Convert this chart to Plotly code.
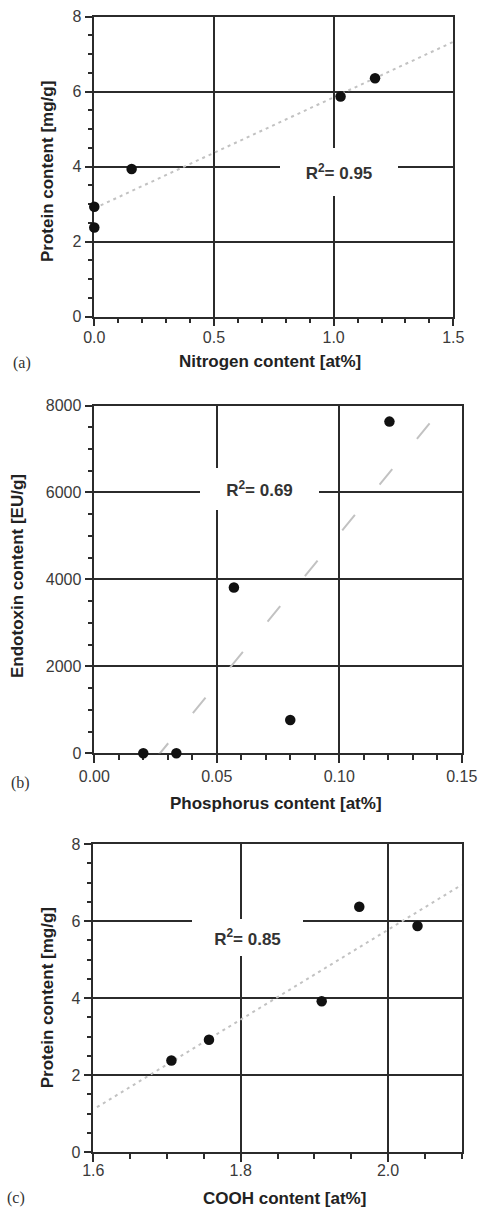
import plotly.graph_objects as go

# ---- data -------------------------------------------------------------
# (a) protein vs. nitrogen
nitrogen_at = [0.0, 0.0, 0.156, 1.029, 1.173]
protein_a = [2.93, 2.38, 3.94, 5.87, 6.36]
fit_a_x = [0.0, 1.5]
fit_a_y = [2.89, 7.33]
r2_a = "0.95"

# (b) endotoxin vs. phosphorus
phosphorus_at = [0.020, 0.0335, 0.057, 0.080, 0.1205]
endotoxin = [0, 0, 3815, 767, 7630]
fit_b_x = [0.025, 0.137]
fit_b_y = [-125, 7594]
r2_b = "0.69"

# (c) protein vs. COOH
cooh_at = [1.706, 1.757, 1.910, 1.961, 2.040]
protein_c = [2.38, 2.92, 3.92, 6.37, 5.87]
fit_c_x = [1.605, 2.1]
fit_c_y = [1.17, 6.94]
r2_c = "0.85"

W, H = 479, 1209
LINE = "#2b2b2b"
TXT = "#222222"
TICKTXT = "#3a3a3a"
SANS = "Liberation Sans, Arial, Helvetica, sans-serif"
SERIF = "Liberation Serif, Times New Roman, serif"


def fx(px):
    return px / W


def fy(py):
    return 1 - py / H


# pixel frames of the three plotting areas: (left, right, top, bottom)
frames = {
    "a": (94.3, 453.3, 16.7, 316.7),
    "b": (94.3, 461.7, 405.5, 753.3),
    "c": (93.3, 461.7, 844.0, 1152.3),
}

fig = go.Figure()


def add_panel(idx, xs, ys, fx_, fy_, dash):
    xa = "x" if idx == 1 else f"x{idx}"
    ya = "y" if idx == 1 else f"y{idx}"
    fig.add_trace(go.Scatter(
        x=fx_, y=fy_, xaxis=xa, yaxis=ya, mode="lines",
        line=dict(color="#c2c2c2", width=2, dash=dash),
        hoverinfo="skip", showlegend=False))
    fig.add_trace(go.Scatter(
        x=xs, y=ys, xaxis=xa, yaxis=ya, mode="markers",
        marker=dict(color="#111111", size=10.5, line=dict(width=0)),
        cliponaxis=False, showlegend=False))


add_panel(1, nitrogen_at, protein_a, fit_a_x, fit_a_y, "3px,4px")
add_panel(2, phosphorus_at, endotoxin, fit_b_x, fit_b_y, "20px,39px")
add_panel(3, cooh_at, protein_c, fit_c_x, fit_c_y, "3px,4px")


def axis_common():
    return dict(
        showline=True, linecolor=LINE, linewidth=1.5, mirror=True,
        showgrid=True, gridcolor=LINE, gridwidth=1.5,
        zeroline=False, ticks="outside", ticklen=8, tickwidth=1.5,
        tickcolor=LINE, layer="below traces", automargin=False,
        tickfont=dict(family=SANS, size=16, color=TICKTXT),
        fixedrange=True,
    )


def minor(d):
    return dict(dtick=d, ticks="outside", ticklen=5, tickwidth=1.5,
                tickcolor=LINE, showgrid=False)


axes = {
    "a": dict(xr=[0, 1.5], xd=0.5, xm=0.1, xf=".1f", xs=-3,
              yr=[0, 8], yd=2, ym=0.5, yf="d"),
    "b": dict(xr=[0, 0.15], xd=0.05, xm=0.01, xf=".2f", xs=0,
              yr=[0, 8000], yd=2000, ym=500, yf="d"),
    "c": dict(xr=[1.6, 2.1], xd=0.2, xm=0.05, xf=".1f", xs=-5,
              yr=[0, 8], yd=2, ym=0.5, yf="d"),
}

layout_axes = {}
for i, key in enumerate(["a", "b", "c"], start=1):
    l, r, t, b = frames[key]
    a = axes[key]
    xname = "xaxis" if i == 1 else f"xaxis{i}"
    yname = "yaxis" if i == 1 else f"yaxis{i}"
    yref = "y" if i == 1 else f"y{i}"
    xref = "x" if i == 1 else f"x{i}"
    x0 = a["xr"][0]
    layout_axes[xname] = dict(
        axis_common(), domain=[fx(l), fx(r)], range=a["xr"], anchor=yref,
        tick0=x0, dtick=a["xd"], tickformat=a["xf"],
        ticklabelstandoff=a["xs"], minor=minor(a["xm"]))
    layout_axes[yname] = dict(
        axis_common(), domain=[fy(b), fy(t)], range=a["yr"], anchor=xref,
        tick0=0, dtick=a["yd"], tickformat=a["yf"],
        minor=minor(a["ym"]))

fig.update_layout(**layout_axes)

ann = []


def text(px, py, s, size=17, bold=True, angle=0, family=SANS, color=TXT,
         box=None):
    d = dict(
        x=fx(px), y=fy(py), xref="paper", yref="paper",
        text=f"<b>{s}</b>" if bold else s, showarrow=False,
        textangle=angle, xanchor="center", yanchor="middle",
        font=dict(family=family, size=size, color=color))
    if box is not None:
        # white label box that interrupts the grid behind the text
        d.update(width=box[0], height=box[1], bgcolor="white",
                 borderpad=0, borderwidth=0, align="center", valign="middle")
    ann.append(d)


# R² labels (box centre, box size)
text(339.0, 172.3, f"R<sup>2</sup>= {r2_a}", color="#333333", box=(118, 48))
text(259.5, 488.8, f"R<sup>2</sup>= {r2_b}", color="#333333", box=(119, 42))
text(247.2, 937.2, f"R<sup>2</sup>= {r2_c}", color="#333333", box=(111, 37))

# axis titles
text(270.0, 361.7, "Nitrogen content [at%]")
text(47.0, 172.0, "Protein content [mg/g]", angle=-90)
text(276.0, 803.3, "Phosphorus content [at%]")
text(17.0, 576.0, "Endotoxin content [EU/g]", angle=-90)
text(284.0, 1198.3, "COOH content [at%]")
text(47.0, 998.3, "Protein content [mg/g]", angle=-90)

# panel letters
text(22.0, 363.3, "(a)", size=16, bold=False, family=SERIF, color="#333333")
text(20.0, 782.7, "(b)", size=16, bold=False, family=SERIF, color="#333333")
text(16.0, 1198.3, "(c)", size=16, bold=False, family=SERIF, color="#333333")

fig.update_layout(
    width=W, height=H, margin=dict(l=0, r=0, t=0, b=0, autoexpand=False),
    paper_bgcolor="white", plot_bgcolor="white",
    showlegend=False, annotations=ann,
    font=dict(family=SANS),
)

fig.write_html("out.html", config={"displayModeBar": False})
